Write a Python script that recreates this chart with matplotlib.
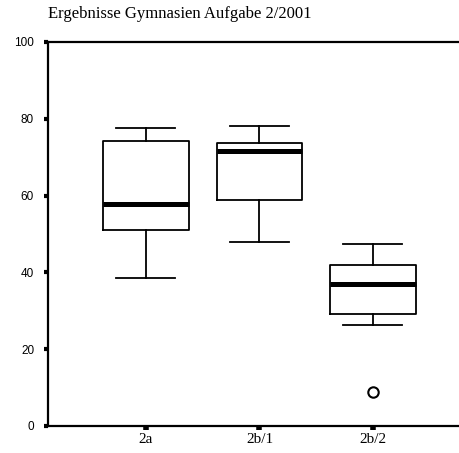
import matplotlib
matplotlib.use("Agg")
import matplotlib.pyplot as plt

categories = ["2a", "2b/1", "2b/2"]
whisker_low = [38.6, 48.0, 26.2]
q1 = [51.0, 58.8, 29.2]
median = [57.9, 71.7, 37.1]
q3 = [74.2, 73.7, 42.0]
whisker_high = [77.5, 78.1, 47.4]
outliers = [[], [], [8.8]]
title = "Ergebnisse Gymnasien Aufgabe 2/2001"
yticks = [0, 20, 40, 60, 80, 100]

fig = plt.figure(figsize=(4.6, 4.53), dpi=100)
ax = fig.add_axes([48/460, 27/453, 1 - 48/460, 384/453])

stats = []
for i, c in enumerate(categories):
    stats.append(dict(label=c, whislo=whisker_low[i], q1=q1[i], med=median[i],
                      q3=q3[i], whishi=whisker_high[i], fliers=outliers[i]))

ax.bxp(stats, positions=[1, 2, 3], widths=0.75, capwidths=0.52,
       boxprops=dict(color="black", linewidth=1.3),
       whiskerprops=dict(color="black", linewidth=1.3),
       capprops=dict(color="black", linewidth=1.3),
       medianprops=dict(color="black", linewidth=3.6, solid_capstyle="butt"),
       flierprops=dict(marker="o", markerfacecolor="white", markeredgecolor="black",
                       markersize=7.5, markeredgewidth=1.5))

ax.set_xlim(0.137, 3.767)
ax.set_ylim(0, 100)
ax.set_yticks(yticks)
ax.set_yticklabels([str(v) for v in yticks], fontfamily="Liberation Sans", fontsize=8.5)
ax.set_xticks([1, 2, 3])
ax.set_xticklabels(categories, fontfamily="Liberation Serif", fontsize=11)
ax.tick_params(axis="y", length=3, width=3, pad=7, direction="out")
ax.tick_params(axis="x", length=3, width=4, pad=2, direction="out")
for s in ["left", "bottom", "top"]:
    ax.spines[s].set_linewidth(1.6)
ax.spines["right"].set_visible(False)

fig.text(48/460, 1 - 14/453, title, fontfamily="Liberation Serif", fontsize=12,
         ha="left", va="center")

fig.savefig("out.png", dpi=100)
